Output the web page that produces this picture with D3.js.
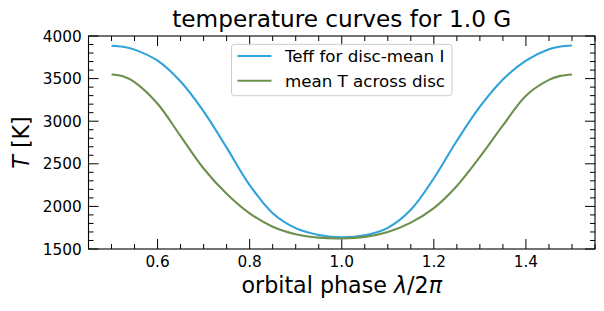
<!DOCTYPE html>
<html>
<head>
<meta charset="utf-8">
<script src="https://cdn.jsdelivr.net/npm/d3@7"></script>
<style>
  body { margin: 0; background: #fff; }
  svg { display: block; font-family: "DejaVu Sans", sans-serif; }
</style>
</head>
<body>
<svg id="chart" width="604" height="311"></svg>
<script>
// orbital phase samples
var phase = [0.50, 0.525, 0.55, 0.60, 0.65, 0.70, 0.75, 0.80, 0.85, 0.90, 0.95, 1.00,
             1.05, 1.10, 1.15, 1.20, 1.25, 1.30, 1.35, 1.40, 1.45, 1.475, 1.50];
// Teff for disc-mean I
var teffDisc = [3886, 3874, 3840, 3710, 3465, 3115, 2690, 2250, 1920, 1745, 1665, 1636,
                1660, 1748, 1960, 2330, 2770, 3170, 3490, 3712, 3845, 3877, 3888];
// mean T across disc
var meanT = [3549, 3527, 3458, 3205, 2825, 2445, 2148, 1918, 1762, 1674, 1633, 1624,
             1642, 1700, 1810, 1980, 2240, 2580, 2950, 3300, 3485, 3532, 3549];

var xMajor = [0.6, 0.8, 1.0, 1.2, 1.4];
var yMajor = [1500, 2000, 2500, 3000, 3500, 4000];
var seriesNames = ["Teff for disc-mean I", "mean T across disc"];
var seriesColors = ["#30a2da", "#6d904f"];

var svg = d3.select("#chart");
var margin = {top: 36, right: 9, bottom: 62, left: 88.5};
var W = 604, H = 311;
var width = W - margin.left - margin.right;
var height = H - margin.top - margin.bottom;

var x = d3.scaleLinear().domain([0.45, 1.55]).range([0, width]);
var y = d3.scaleLinear().domain([1500, 4000]).range([height, 0]);

var g = svg.append("g").attr("transform", "translate(" + margin.left + "," + margin.top + ")");

// minor tick positions
var xMinor = d3.range(0.45, 1.5501, 0.05).filter(function(v){
  return xMajor.every(function(m){ return Math.abs(m - v) > 1e-6; });
});
var yMinor = d3.range(1500, 4001, 100).filter(function(v){ return v % 500 != 0; });

var tickFont = 15.3;
var major = 10, minor = 5;

function xticks(vals, len){
  g.selectAll(null).data(vals).enter().append("line")
    .attr("x1", function(d){ return x(d); }).attr("x2", function(d){ return x(d); })
    .attr("y1", height).attr("y2", height - len)
    .attr("stroke", "#000").attr("stroke-width", 1);
  g.selectAll(null).data(vals).enter().append("line")
    .attr("x1", function(d){ return x(d); }).attr("x2", function(d){ return x(d); })
    .attr("y1", 0).attr("y2", len)
    .attr("stroke", "#000").attr("stroke-width", 1);
}
function yticks(vals, len){
  g.selectAll(null).data(vals).enter().append("line")
    .attr("y1", function(d){ return y(d); }).attr("y2", function(d){ return y(d); })
    .attr("x1", 0).attr("x2", len)
    .attr("stroke", "#000").attr("stroke-width", 1);
  g.selectAll(null).data(vals).enter().append("line")
    .attr("y1", function(d){ return y(d); }).attr("y2", function(d){ return y(d); })
    .attr("x1", width).attr("x2", width - len)
    .attr("stroke", "#000").attr("stroke-width", 1);
}
xticks(xMajor, major);
xticks(xMinor, minor);
yticks(yMajor, major);
yticks(yMinor, minor);

// tick labels
g.selectAll(".xl").data(xMajor).enter().append("text")
  .attr("x", function(d){ return x(d); })
  .attr("y", height + 17.8)
  .attr("text-anchor", "middle")
  .attr("font-size", tickFont)
  .text(function(d){ return d3.format(".1f")(d); });

g.selectAll(".yl").data(yMajor).enter().append("text")
  .attr("x", -6.8)
  .attr("y", function(d){ return y(d); })
  .attr("dy", "0.36em")
  .attr("text-anchor", "end")
  .attr("font-size", tickFont)
  .text(function(d){ return d; });

// curves
var line = d3.line()
  .x(function(d){ return x(d[0]); })
  .y(function(d){ return y(d[1]); })
  .curve(d3.curveCatmullRom.alpha(0.5));

[teffDisc, meanT].forEach(function(vals, i){
  g.append("path")
    .attr("fill", "none")
    .attr("stroke", seriesColors[i])
    .attr("stroke-width", 2.1)
    .attr("stroke-linejoin", "round")
    .attr("d", line(phase.map(function(p, j){ return [p, vals[j]]; })));
});

// frame
g.append("rect")
  .attr("width", width).attr("height", height)
  .attr("fill", "none").attr("stroke", "#000").attr("stroke-width", 1.1);

// title and axis labels
svg.append("text")
  .attr("x", margin.left + width / 2).attr("y", 27)
  .attr("text-anchor", "middle").attr("font-size", 23.2)
  .text("temperature curves for 1.0 G");

var xl = svg.append("text")
  .attr("x", margin.left + width / 2).attr("y", 293)
  .attr("text-anchor", "middle").attr("font-size", 22.2);
xl.append("tspan").text("orbital phase ");
xl.append("tspan").attr("font-style", "italic").text("λ");
xl.append("tspan").text("/2");
xl.append("tspan").attr("font-style", "italic").text("π");

var yl = svg.append("text")
  .attr("transform", "translate(28.8," + (margin.top + height / 2) + ") rotate(-90)")
  .attr("text-anchor", "middle").attr("font-size", 22.2);
yl.append("tspan").attr("font-style", "italic").text("T");
yl.append("tspan").text(" [K]");

// legend
var legFont = 16.7;
var leg = g.append("g");
var box = leg.append("rect")
  .attr("fill", "#fff").attr("fill-opacity", 0.8)
  .attr("stroke", "#cccccc").attr("stroke-width", 1)
  .attr("rx", 3);
var rowY = [20, 44.7];
var txts = [];
seriesNames.forEach(function(name, i){
  leg.append("line")
    .attr("x1", 0).attr("x2", 34)
    .attr("y1", rowY[i]).attr("y2", rowY[i])
    .attr("stroke", seriesColors[i]).attr("stroke-width", 2.1);
  txts.push(leg.append("text")
    .attr("x", 47.5).attr("y", rowY[i]).attr("dy", "0.36em")
    .attr("font-size", legFont).text(name));
});
var tw = d3.max(txts, function(t){ return t.node().getComputedTextLength(); });
var bw = 6 + 47.5 + tw + 7;
box.attr("x", -6).attr("y", 8.3).attr("width", bw).attr("height", 51.4);
leg.attr("transform", "translate(" + (width / 2 - bw / 2 + 6) + ",0)");
</script>
</body>
</html>
